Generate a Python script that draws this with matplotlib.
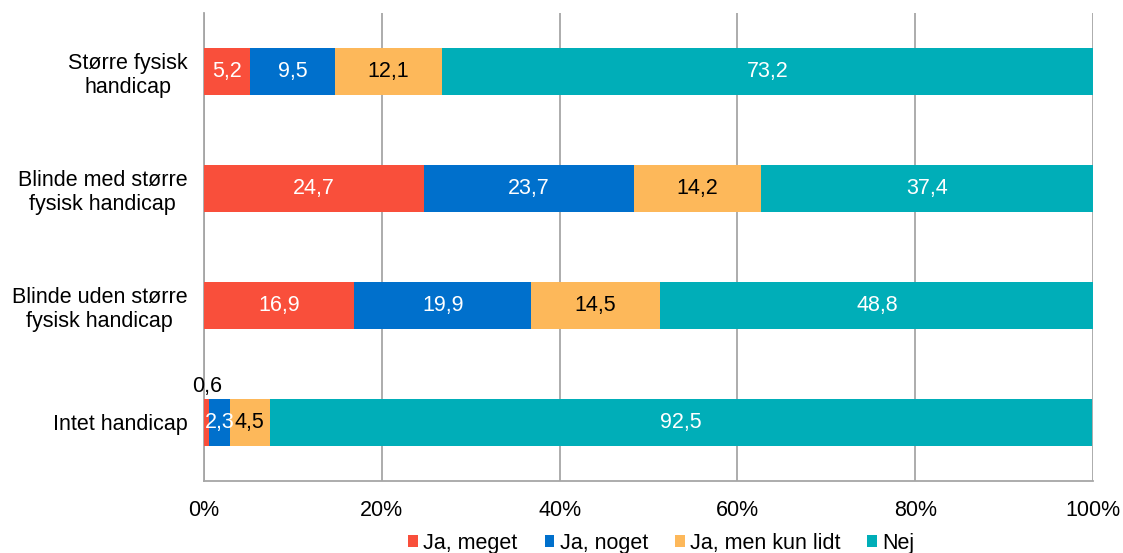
import numpy as np
import matplotlib.pyplot as plt

plt.rcParams['font.family'] = ['Liberation Sans', 'DejaVu Sans']

# ─── Data ─────────────────────────────────────────────────────────────────────
categories = ['Større fysisk\nhandicap', 'Blinde med større\nfysisk handicap',
              'Blinde uden større\nfysisk handicap', 'Intet handicap']
series_names = ['Ja, meget', 'Ja, noget', 'Ja, men kun lidt', 'Nej']
ja_meget = [5.2, 24.7, 16.9, 0.6]
ja_noget = [9.5, 23.7, 19.9, 2.3]
ja_lidt  = [12.1, 14.2, 14.5, 4.5]
nej      = [73.2, 37.4, 48.8, 92.5]

colors      = ['#F94F3B', '#0070CC', '#FDB85A', '#00AEB8']
text_colors = ['white', 'white', 'black', 'white']
fs = 15.5

# ─── Figure ───────────────────────────────────────────────────────────────────
fig = plt.figure(figsize=(11.23, 5.53), dpi=100)
ax = fig.add_axes([0.1817, 0.1302, 0.7916, 0.8463])

y = np.arange(len(categories))
left = np.zeros(len(categories))
for name, vals, col, tcol in zip(series_names, [ja_meget, ja_noget, ja_lidt, nej],
                                 colors, text_colors):
    vals = np.array(vals)
    ax.barh(y, vals, left=left, height=0.4, color=col, label=name, zorder=3)
    for yi, (l, v) in enumerate(zip(left, vals)):
        txt = f'{v:.1f}'.replace('.', ',')
        if v < 1:
            # too thin: label above the bar
            ax.text(l + v / 2, yi - 0.215, txt, ha='center', va='bottom',
                    fontsize=fs, color='black', zorder=4)
        else:
            ax.text(l + v / 2, yi, txt, ha='center', va='center',
                    fontsize=fs, color=tcol, zorder=4)
    left += vals

ax.set_xlim(0, 100)
ax.set_ylim(3.5, -0.5)
ax.set_yticks(y)
ax.set_yticklabels(categories, fontsize=fs, ha='right', multialignment='center')
ax.tick_params(axis='y', length=0, pad=12)
ax.set_xticks(np.arange(0, 101, 20))
ax.set_xticklabels([f'{v}%' for v in range(0, 101, 20)], fontsize=fs)
ax.tick_params(axis='x', length=0, pad=14)
ax.grid(axis='x', color='#A6A6A6', linewidth=1.3, zorder=0)

for s in ['top', 'right']:
    ax.spines[s].set_visible(False)
for s in ['left', 'bottom']:
    ax.spines[s].set_color('#A6A6A6')
    ax.spines[s].set_linewidth(1.3)

fig.legend(loc='center', bbox_to_anchor=(0.589, 0.018), ncol=4, frameon=False,
           fontsize=fs, handlelength=0.45, handleheight=0.45, handletextpad=0.25,
           columnspacing=1.25, borderpad=0.1)

fig.savefig('out.png', dpi=100)
